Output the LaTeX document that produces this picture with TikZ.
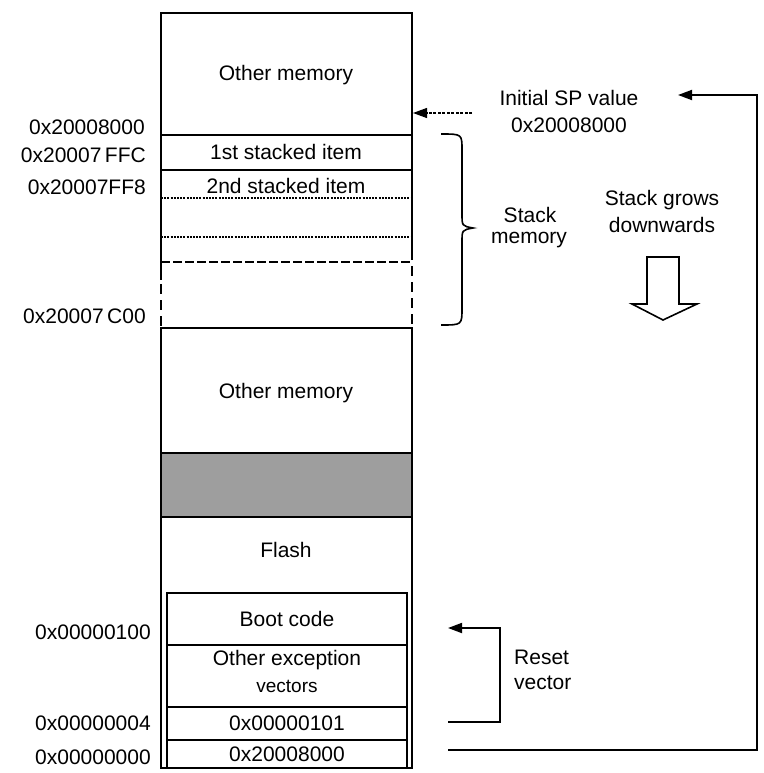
\documentclass[tikz,border=0pt]{standalone}
\usepackage{fontspec}
\setmainfont{Liberation Sans}
\usetikzlibrary{arrows.meta}
\begin{document}
\begin{tikzpicture}[x=1pt,y=-1pt,
  font=\fontsize{21}{25}\selectfont,
  box/.style={line width=1.6pt},
  thinbox/.style={line width=1.2pt},
  lbl/.style={anchor=east, inner sep=0pt},
  txt/.style={inner sep=0pt, align=center},
  conn/.style={line width=1.8pt},
  tip/.style={-{Triangle[length=14pt,width=10pt]}},
  dotline/.style={line width=1.3pt, dash pattern=on 2pt off 1.2pt},
  dashline/.style={line width=1.1pt, dash pattern=on 9pt off 3pt},
  sidedash/.style={line width=1.6pt, dash pattern=on 10pt off 6pt}]
\useasboundingbox (0,0) rectangle (763,773);
\fill[white] (0,0) rectangle (763,773);

% ---- memory column ----
\draw[box] (161,13) rectangle (412,135);
\node[txt] (om1) at (286,75) {Other memory};
\draw[box] (161,135) rectangle (412,170);
\node[txt] (s1) at (286,152) {1st stacked item};
\draw[box] (161,170) -- (161,280);
\draw[box] (412,170) -- (412,260);
\draw[sidedash] (161,284) -- (161,328);
\draw[sidedash] (412,266) -- (412,328);
\node[txt] (s2) at (286,186) {2nd stacked item};
\draw[dotline] (161,198) -- (412,198);
\draw[dotline] (161,237) -- (412,237);
\draw[dashline] (161,262) -- (412,262);
\draw[box] (161,328) rectangle (412,453);
\node[txt] (om2) at (286,393) {Other memory};
\filldraw[box, fill=black!38] (161,453) rectangle (412,517);
\draw[box] (161,517) rectangle (412,768);
\node[txt] (fl) at (286,550) {Flash};
% inner vector table
\draw[box] (167,593) rectangle (407,768);
\draw[thinbox] (167,645) -- (407,645);
\draw[box] (167,707) -- (407,707);
\draw[box] (167,740) -- (407,740);
\node[txt] (bc) at (287,619) {Boot code};
\node[txt] (oe) at (287,660) {Other exception};
\node[txt, font=\fontsize{19}{21}\selectfont] (ve) at (287,686) {vectors};
\node[txt] (v4) at (287,723) {0x00000101};
\node[txt] (v0) at (287,754) {0x20008000};

% ---- address labels ----
\node[lbl] (a1) at (145,127) {0x20008000};
\node[lbl] (a2) at (146,155) {0x20007\,FFC};
\node[lbl] (a3) at (146,187) {0x20007FF8};
\node[lbl] (a4) at (146,316) {0x20007\,C00};
\node[lbl] (a5) at (151,632) {0x00000100};
\node[lbl] (a6) at (151,723) {0x00000004};
\node[lbl] (a7) at (151,757) {0x00000000};

% ---- right side ----
\node[txt] (isp) at (569,98) {Initial SP value};
\node[txt] (isv) at (569,125) {0x20008000};
\coordinate (dstart) at (472,113);
\coordinate (dend) at (413,113);
\draw[line width=1.2pt, dash pattern=on 3pt off 1.5pt, tip] (dstart) -- (dend);

% stack brace
\draw[line width=1.6pt]
  (441,134) .. controls (462,134) .. (462,150) -- (462,214)
  .. controls (462,226) .. (473,228)
  .. controls (462,230) .. (462,242) -- (462,308)
  .. controls (462,325) .. (441,325);
\node[txt] (sm1) at (530,215) {Stack};
\node[txt] (sm2) at (529,240) {memory};

\node[txt] (sg1) at (662,200) {Stack grows};
\node[txt] (sg2) at (662,225) {downwards};
\draw[line width=1.6pt, fill=white]
  (647,257) -- (679,257) -- (679,304) -- (697,304) -- (663,320)
  -- (632,304) -- (647,304) -- cycle;

% initial SP loop from vector 0
\coordinate (b0) at (448,750);
\coordinate (b1) at (757,750);
\coordinate (b2) at (757,95);
\coordinate (b3) at (678,95);
\draw[conn, tip] (b0) -- (b1) -- (b2) -- (b3);

% reset vector
\coordinate (r0) at (448,722);
\coordinate (r1) at (500,722);
\coordinate (r2) at (500,628);
\coordinate (r3) at (448,628);
\draw[conn, tip] (r0) -- (r1) -- (r2) -- (r3);
\node[txt, anchor=west] (rs1) at (514,657) {Reset};
\node[txt, anchor=west] (rs2) at (514,683) {vector};
\end{tikzpicture}
\end{document}
